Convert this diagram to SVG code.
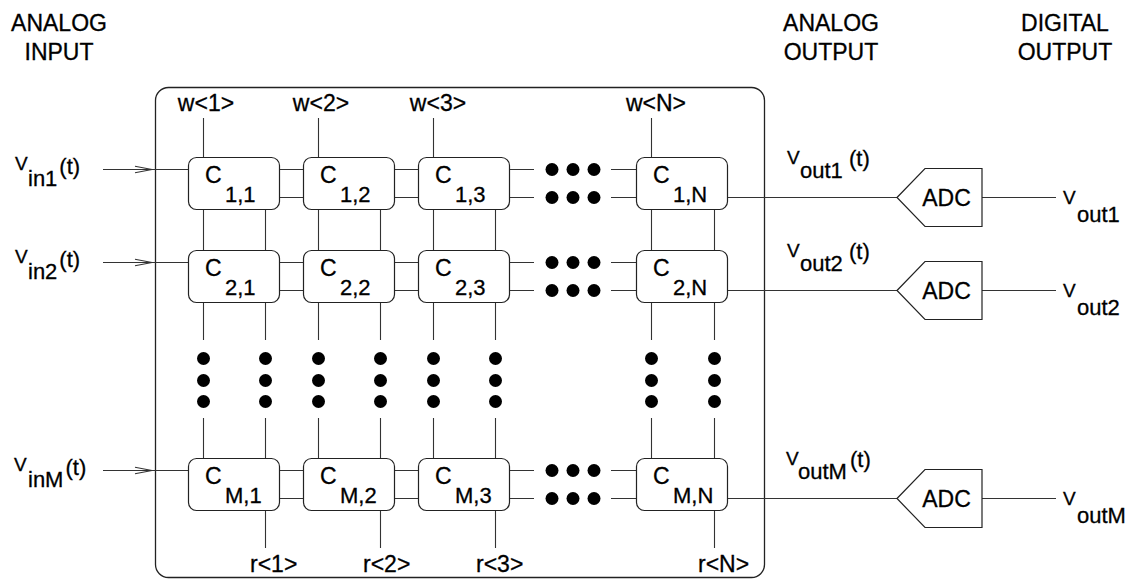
<svg xmlns="http://www.w3.org/2000/svg" width="1133" height="583" viewBox="0 0 1133 583">
<style>
text{font-family:"Liberation Sans",Arial,sans-serif;fill:#000;stroke:#000;stroke-width:0.3}
.t{font-size:23px}
.lbl{font-size:23px}
.cell{fill:#fff;stroke:#222;stroke-width:1.2}
.frame{fill:none;stroke:#222;stroke-width:1.3}
.w{stroke:#333;stroke-width:1.1;fill:none}
.adc{fill:#fff;stroke:#222;stroke-width:1.2}
.dot{fill:#000}
.v{font-size:19px}
.s{font-size:22px}
</style>
<defs>
<marker id="open" markerUnits="userSpaceOnUse" markerWidth="20" markerHeight="10" refX="17" refY="4" orient="auto" overflow="visible">
<path d="M0,0.7 L17,4 L0,7.3" fill="none" stroke="#333" stroke-width="1.1"/>
</marker>
</defs>

<g id="titles">
<text class="t" x="59" y="31" text-anchor="middle">ANALOG</text>
<text class="t" x="59" y="60" text-anchor="middle">INPUT</text>
<text class="t" x="831" y="31" text-anchor="middle">ANALOG</text>
<text class="t" x="831" y="60" text-anchor="middle">OUTPUT</text>
<text class="t" x="1065" y="31" text-anchor="middle">DIGITAL</text>
<text class="t" x="1065" y="60" text-anchor="middle">OUTPUT</text>
</g>

<g id="frame"><rect class="frame" x="155.5" y="87.5" width="609" height="490" rx="13"/></g>

<g id="connectors" class="w">
<path d="M203.5,118V157 M318.5,118V157 M433.5,118V157 M651.5,118V157"/>
<path d="M203.5,209V250 M265.5,209V250 M318.5,209V250 M380.5,209V250 M433.5,209V250 M495.5,209V250 M651.5,209V250 M714.5,209V250"/>
<path d="M203.5,302V340 M265.5,302V340 M318.5,302V340 M380.5,302V340 M433.5,302V340 M495.5,302V340 M651.5,302V340 M714.5,302V340"/>
<path d="M203.5,418V458 M265.5,418V458 M318.5,418V458 M380.5,418V458 M433.5,418V458 M495.5,418V458 M651.5,418V458 M714.5,418V458"/>
<path d="M265.5,510V548 M380.5,510V548 M495.5,510V548 M714.5,510V548"/>
<path d="M279,169.5H303 M279,197.5H303 M394,169.5H418 M394,197.5H418 M509,169.5H534 M509,197.5H534 M611,169.5H636 M611,197.5H636"/>
<path d="M279,262.5H303 M279,290.5H303 M394,262.5H418 M394,290.5H418 M509,262.5H534 M509,290.5H534 M611,262.5H636 M611,290.5H636"/>
<path d="M279,470.5H303 M279,498.5H303 M394,470.5H418 M394,498.5H418 M509,470.5H534 M509,498.5H534 M611,470.5H636 M611,498.5H636"/>
<path d="M103,169.5H152" marker-end="url(#open)"/>
<path d="M152,169.5H188"/>
<path d="M103,262.5H152" marker-end="url(#open)"/>
<path d="M152,262.5H188"/>
<path d="M103,470.5H152" marker-end="url(#open)"/>
<path d="M152,470.5H188"/>
<path d="M727,197.5H897 M727,290.5H897 M727,498.5H897"/>
<path d="M982,197.5H1056 M982,290.5H1056 M982,498.5H1056"/>
</g>

<g id="dots">
<g id="vdots">
<circle class="dot" cx="203.5" cy="358.5" r="6.5"/><circle class="dot" cx="203.5" cy="380.5" r="6.5"/><circle class="dot" cx="203.5" cy="401.5" r="6.5"/>
<circle class="dot" cx="265.5" cy="358.5" r="6.5"/><circle class="dot" cx="265.5" cy="380.5" r="6.5"/><circle class="dot" cx="265.5" cy="401.5" r="6.5"/>
<circle class="dot" cx="318.5" cy="358.5" r="6.5"/><circle class="dot" cx="318.5" cy="380.5" r="6.5"/><circle class="dot" cx="318.5" cy="401.5" r="6.5"/>
<circle class="dot" cx="380.5" cy="358.5" r="6.5"/><circle class="dot" cx="380.5" cy="380.5" r="6.5"/><circle class="dot" cx="380.5" cy="401.5" r="6.5"/>
<circle class="dot" cx="433.5" cy="358.5" r="6.5"/><circle class="dot" cx="433.5" cy="380.5" r="6.5"/><circle class="dot" cx="433.5" cy="401.5" r="6.5"/>
<circle class="dot" cx="495.5" cy="358.5" r="6.5"/><circle class="dot" cx="495.5" cy="380.5" r="6.5"/><circle class="dot" cx="495.5" cy="401.5" r="6.5"/>
<circle class="dot" cx="651.5" cy="358.5" r="6.5"/><circle class="dot" cx="651.5" cy="380.5" r="6.5"/><circle class="dot" cx="651.5" cy="401.5" r="6.5"/>
<circle class="dot" cx="714.5" cy="358.5" r="6.5"/><circle class="dot" cx="714.5" cy="380.5" r="6.5"/><circle class="dot" cx="714.5" cy="401.5" r="6.5"/>
</g>
<g id="hdots">
<circle class="dot" cx="552" cy="169.5" r="6.5"/><circle class="dot" cx="573" cy="169.5" r="6.5"/><circle class="dot" cx="594" cy="169.5" r="6.5"/>
<circle class="dot" cx="552" cy="197.5" r="6.5"/><circle class="dot" cx="573" cy="197.5" r="6.5"/><circle class="dot" cx="594" cy="197.5" r="6.5"/>
<circle class="dot" cx="552" cy="262.5" r="6.5"/><circle class="dot" cx="573" cy="262.5" r="6.5"/><circle class="dot" cx="594" cy="262.5" r="6.5"/>
<circle class="dot" cx="552" cy="290.5" r="6.5"/><circle class="dot" cx="573" cy="290.5" r="6.5"/><circle class="dot" cx="594" cy="290.5" r="6.5"/>
<circle class="dot" cx="552" cy="470.5" r="6.5"/><circle class="dot" cx="573" cy="470.5" r="6.5"/><circle class="dot" cx="594" cy="470.5" r="6.5"/>
<circle class="dot" cx="552" cy="498.5" r="6.5"/><circle class="dot" cx="573" cy="498.5" r="6.5"/><circle class="dot" cx="594" cy="498.5" r="6.5"/>
</g>
</g>

<g id="cell-1-1"><rect class="cell" x="188.5" y="157.5" width="91" height="52" rx="8"/><text class="lbl" x="205" y="183">C</text><text class="s" x="225" y="202">1,1</text></g>
<g id="cell-1-2"><rect class="cell" x="303.5" y="157.5" width="91" height="52" rx="8"/><text class="lbl" x="320" y="183">C</text><text class="s" x="340" y="202">1,2</text></g>
<g id="cell-1-3"><rect class="cell" x="418.5" y="157.5" width="91" height="52" rx="8"/><text class="lbl" x="435" y="183">C</text><text class="s" x="455" y="202">1,3</text></g>
<g id="cell-1-N"><rect class="cell" x="636.5" y="157.5" width="91" height="52" rx="8"/><text class="lbl" x="653" y="183">C</text><text class="s" x="673" y="202">1,N</text></g>

<g id="cell-2-1"><rect class="cell" x="188.5" y="250.5" width="91" height="52" rx="8"/><text class="lbl" x="205" y="276">C</text><text class="s" x="225" y="295">2,1</text></g>
<g id="cell-2-2"><rect class="cell" x="303.5" y="250.5" width="91" height="52" rx="8"/><text class="lbl" x="320" y="276">C</text><text class="s" x="340" y="295">2,2</text></g>
<g id="cell-2-3"><rect class="cell" x="418.5" y="250.5" width="91" height="52" rx="8"/><text class="lbl" x="435" y="276">C</text><text class="s" x="455" y="295">2,3</text></g>
<g id="cell-2-N"><rect class="cell" x="636.5" y="250.5" width="91" height="52" rx="8"/><text class="lbl" x="653" y="276">C</text><text class="s" x="673" y="295">2,N</text></g>

<g id="cell-M-1"><rect class="cell" x="188.5" y="458.5" width="91" height="52" rx="8"/><text class="lbl" x="205" y="484">C</text><text class="s" x="225" y="503">M,1</text></g>
<g id="cell-M-2"><rect class="cell" x="303.5" y="458.5" width="91" height="52" rx="8"/><text class="lbl" x="320" y="484">C</text><text class="s" x="340" y="503">M,2</text></g>
<g id="cell-M-3"><rect class="cell" x="418.5" y="458.5" width="91" height="52" rx="8"/><text class="lbl" x="435" y="484">C</text><text class="s" x="455" y="503">M,3</text></g>
<g id="cell-M-N"><rect class="cell" x="636.5" y="458.5" width="91" height="52" rx="8"/><text class="lbl" x="653" y="484">C</text><text class="s" x="673" y="503">M,N</text></g>

<g id="word-labels">
<text class="lbl" x="206" y="111" text-anchor="middle">w&lt;1&gt;</text>
<text class="lbl" x="321" y="111" text-anchor="middle">w&lt;2&gt;</text>
<text class="lbl" x="438" y="111" text-anchor="middle">w&lt;3&gt;</text>
<text class="lbl" x="656" y="111" text-anchor="middle">w&lt;N&gt;</text>
</g>
<g id="read-labels">
<text class="lbl" x="250" y="572">r&lt;1&gt;</text>
<text class="lbl" x="363" y="572">r&lt;2&gt;</text>
<text class="lbl" x="476" y="572">r&lt;3&gt;</text>
<text class="lbl" x="698" y="572">r&lt;N&gt;</text>
</g>

<g id="inputs">
<text><tspan class="v" x="15" y="170">V</tspan><tspan class="s" x="28" y="186">in1</tspan><tspan class="s" dx="2" y="174">(t)</tspan></text>
<text><tspan class="v" x="15" y="263">V</tspan><tspan class="s" x="28" y="279">in2</tspan><tspan class="s" dx="2" y="267">(t)</tspan></text>
<text><tspan class="v" x="14" y="471">V</tspan><tspan class="s" x="28" y="487">inM</tspan><tspan class="s" dx="2" y="475">(t)</tspan></text>
</g>

<g id="analog-outputs">
<text><tspan class="v" x="787" y="164">V</tspan><tspan class="s" x="800" y="178">out1</tspan><tspan class="s" x="849" y="166">(t)</tspan></text>
<text><tspan class="v" x="787" y="257">V</tspan><tspan class="s" x="800" y="271">out2</tspan><tspan class="s" x="849" y="259">(t)</tspan></text>
<text><tspan class="v" x="786" y="465">V</tspan><tspan class="s" x="798" y="479">outM</tspan><tspan class="s" x="850" y="467">(t)</tspan></text>
</g>

<g id="adc-1"><path class="adc" d="M897,197.5 L925,168.5 H982 V226.5 H925 Z"/><text class="lbl" x="946.5" y="206" text-anchor="middle">ADC</text></g>
<g id="adc-2"><path class="adc" d="M897,290.5 L925,261.5 H982 V319.5 H925 Z"/><text class="lbl" x="946.5" y="299" text-anchor="middle">ADC</text></g>
<g id="adc-M"><path class="adc" d="M897,498.5 L925,469.5 H982 V527.5 H925 Z"/><text class="lbl" x="946.5" y="507" text-anchor="middle">ADC</text></g>

<g id="digital-outputs">
<text><tspan class="v" x="1063" y="204">V</tspan><tspan class="s" x="1077" y="222">out1</tspan></text>
<text><tspan class="v" x="1063" y="297">V</tspan><tspan class="s" x="1077" y="315">out2</tspan></text>
<text><tspan class="v" x="1063" y="505">V</tspan><tspan class="s" x="1077" y="523">outM</tspan></text>
</g>
</svg>
